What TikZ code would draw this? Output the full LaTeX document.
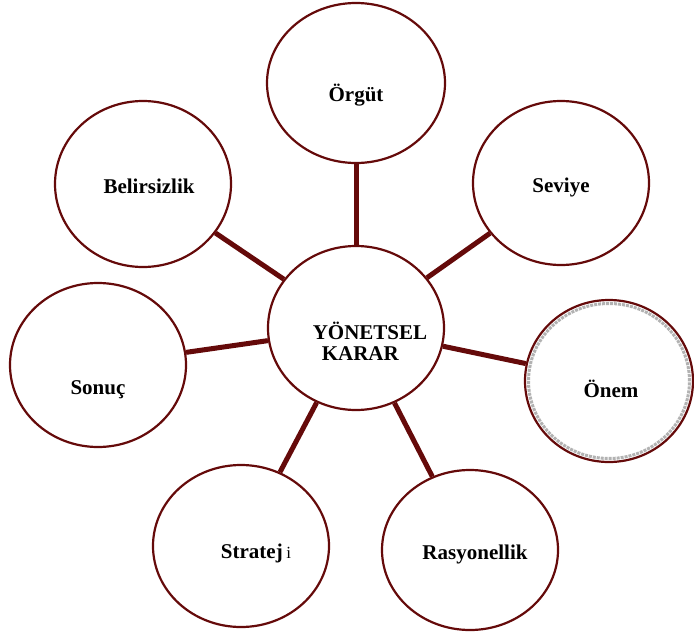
\documentclass[tikz,border=0pt]{standalone}
\usepackage{fontspec}
\setmainfont{Liberation Serif}
\usetikzlibrary{shapes.geometric}
\definecolor{maroon}{HTML}{650A0A}
\tikzset{
  bubble/.style={ellipse, draw=maroon, line width=2.2pt, fill=white, inner sep=0pt},
  spoke/.style={draw=maroon, line width=5pt},
  word/.style={font=\fontsize{21}{24}\selectfont\bfseries, inner sep=0pt, text=black}
}
\begin{document}
\begin{tikzpicture}[x=1pt,y=-1pt]
\useasboundingbox (0,0) rectangle (694,632);
% central and surrounding ellipses
\node[bubble, minimum width=176pt, minimum height=164pt] (karar) at (356,328) {};
\node[bubble, minimum width=178pt, minimum height=160pt] (orgut) at (356,83) {};
\node[bubble, minimum width=176pt, minimum height=166pt] (belirsizlik) at (143,184) {};
\node[bubble, minimum width=176pt, minimum height=164pt] (seviye) at (561,183) {};
\node[bubble, minimum width=168pt, minimum height=162pt] (onem) at (609,381) {};
\node[bubble, minimum width=176pt, minimum height=164pt] (sonuc) at (98,365) {};
\node[bubble, minimum width=176pt, minimum height=162pt] (strateji) at (241,546) {};
\node[bubble, minimum width=176pt, minimum height=160pt] (rasyonellik) at (470,550) {};
% stippled inner ring of the highlighted ellipse
\node[ellipse, draw=gray!60, densely dotted, line width=3pt, minimum width=161pt, minimum height=155pt] (onemring) at (609,381) {};
% spokes from the centre to each ellipse
\foreach \o in {orgut,belirsizlik,seviye,onem,sonuc,strateji,rasyonellik}
  \draw[spoke] (karar) -- (\o);
% labels
\node[word] (t-orgut) at (356,95) {Örgüt};
\node[word] (t-belirsizlik) at (149,186) {Belirsizlik};
\node[word] (t-seviye) at (561,187) {Seviye};
\node[word, align=left] (t-karar) at (370,341) {YÖNETSEL\\[-3pt]\hspace*{9pt}KARAR};
\node[word] (t-onem) at (611,389) {Önem};
\node[word] (t-sonuc) at (98,390) {Sonuç};
\node[word] (t-strateji) at (256,553) {Stratej\,{\mdseries\fontsize{17}{20}\selectfont i}};
\node[word] (t-rasyonellik) at (475,554) {Rasyonellik};
\end{tikzpicture}
\end{document}
